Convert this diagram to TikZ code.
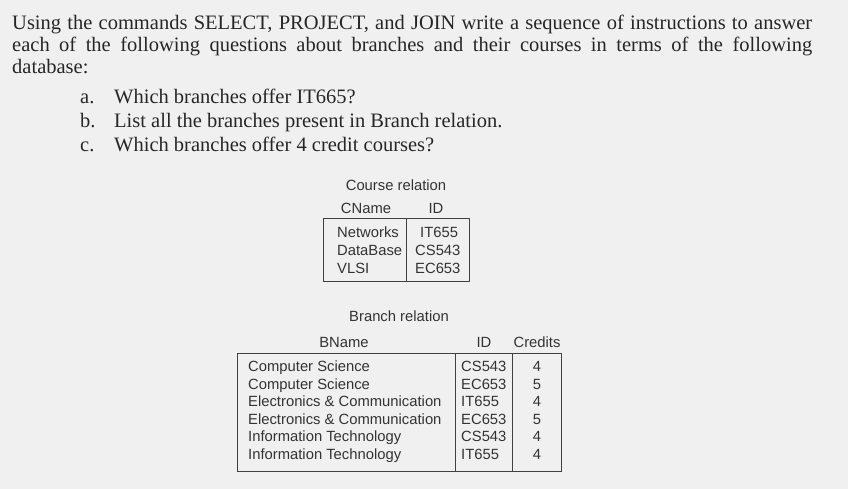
\documentclass[tikz,border=0pt]{standalone}
\usepackage{fontspec}
\setmainfont{Liberation Serif}
\newfontfamily\tabfont{Liberation Sans}
\begin{document}
\begin{tikzpicture}[x=1pt,y=-1pt,
  body/.style={anchor=base west,inner sep=0pt,font=\fontsize{20.5}{22}\selectfont,text=black!85},
  tab/.style={inner sep=0pt,font=\tabfont\fontsize{14.8}{16}\selectfont,text=black!80},
  tl/.style={tab,anchor=mid west},
  tc/.style={tab,anchor=mid},
  frame/.style={draw=black!75,line width=0.9pt}]
\fill[gray!12] (0,0) rectangle (848,489);
\useasboundingbox (0,0) rectangle (848,489);
\node[body] (l1) at (12,30) {\makebox[800pt][s]{Using the commands SELECT, PROJECT, and JOIN write a sequence of instructions to answer}};
\node[body] (l2) at (12,52) {\makebox[800pt][s]{each of the following questions about branches and their courses in terms of the following}};
\node[body] (l3) at (12,74) {database:};
\node[body] (ia) at (80,104) {a.};
\node[body] (ta) at (114,104) {Which branches offer IT665?};
\node[body] (ib) at (80,128) {b.};
\node[body] (tb) at (114,128) {List all the branches present in Branch relation.};
\node[body] (ic) at (80,152) {c.};
\node[body] (tc) at (114,152) {Which branches offer 4 credit courses?};
% Course relation
\node[tc] (ct) at (396,188) {Course relation};
\node[tc] (ch1) at (366,211) {CName};
\node[tc] (ch2) at (436,211) {ID};
\draw[frame] (323,218) rectangle (469,281);
\draw[frame] (406,218) -- (406,281);
\node[tl] (c1) at (337,235) {Networks};
\node[tl] (c2) at (337,253) {DataBase};
\node[tl] (c3) at (337,271) {VLSI};
\node[tl] (d1) at (420,235) {IT655};
\node[tl] (d2) at (415,253) {CS543};
\node[tl] (d3) at (415,271) {EC653};
% Branch relation
\node[tc] (bt) at (399,319) {Branch relation};
\node[tc] (bh1) at (344,345) {BName};
\node[tc] (bh2) at (484,345) {ID};
\node[tc] (bh3) at (537,345) {Credits};
\draw[frame] (237,353) rectangle (561,471);
\draw[frame] (455,353) -- (455,471);
\draw[frame] (512,353) -- (512,471);
\foreach \n/\y/\a/\b/\c in {1/369/Computer Science/CS543/4,2/387/Computer Science/EC653/5,3/404/Electronics \& Communication/IT655/4,4/422/Electronics \& Communication/EC653/5,5/439/Information Technology/CS543/4,6/457/Information Technology/IT655/4}{
  \node[tl] (bn\n) at (248,\y) {\a};
  \node[tl] (bi\n) at (461,\y) {\b};
  \node[tc] (bc\n) at (537,\y) {\c};
}
\end{tikzpicture}
\end{document}
